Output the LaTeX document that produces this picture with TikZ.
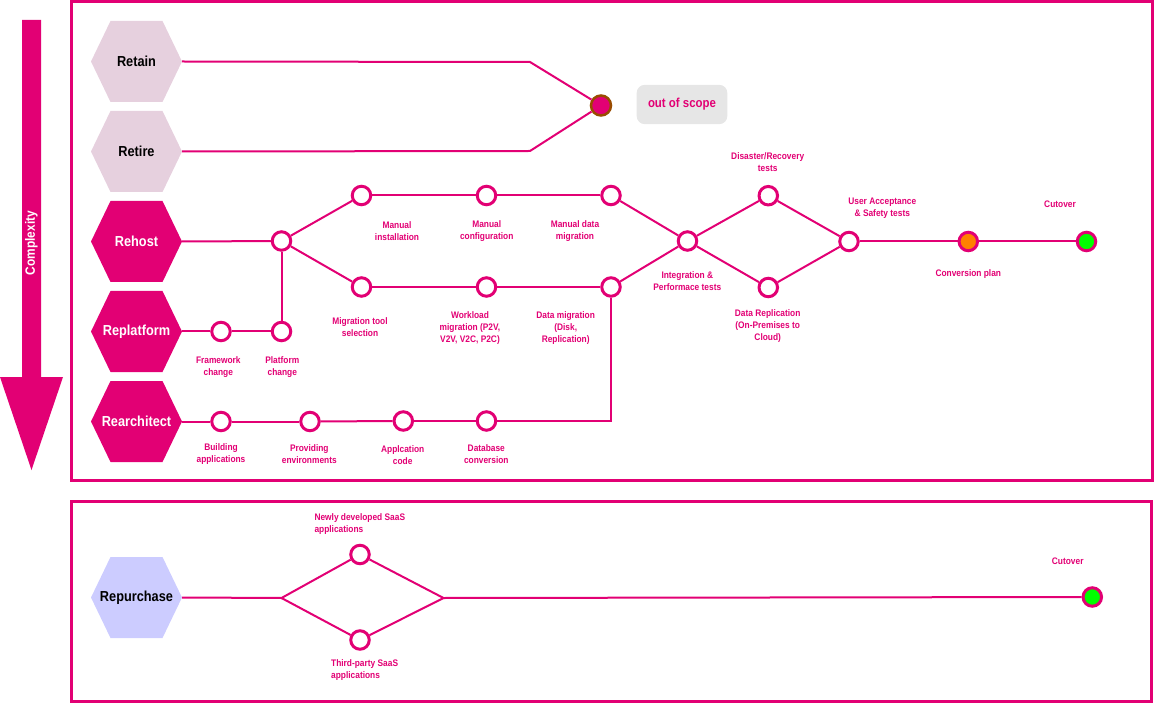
\documentclass[tikz,border=0pt]{standalone}
\usepackage{fontspec}
\setmainfont{Liberation Sans}[FakeStretch=0.88]
\definecolor{mag}{HTML}{E20074}
\definecolor{pinkgray}{HTML}{E6D0DE}
\definecolor{lav}{HTML}{CCCCFF}
\definecolor{brn}{HTML}{994C00}
\definecolor{org}{HTML}{FF8000}
\definecolor{grn}{HTML}{00FF00}
\definecolor{lgray}{HTML}{E6E6E6}
\newcommand\myhex[6]{%
  \fill[#4] ({#2-45.5},#3) -- ({#2-26},{#3-40.5}) -- ({#2+26},{#3-40.5}) -- ({#2+45.5},#3) -- ({#2+26},{#3+40.5}) -- ({#2-26},{#3+40.5}) -- cycle;
  \node[hexlabel,#5] (#1) at (#2,#3) {#6};}
\tikzset{
  hexlabel/.style={minimum width=91pt, minimum height=81pt, inner sep=0pt, font=\fontsize{14.5}{16}\selectfont\bfseries},
  frame/.style={draw=mag, line width=3pt},
  conn/.style={draw=mag, line width=2pt},
  stepc/.style={circle, draw=mag, fill=white, line width=3pt, minimum size=18.5pt, inner sep=0pt},
  lbl/.style={text=mag, font=\fontsize{9.5}{12}\selectfont\bfseries, align=center, inner sep=0pt},
}
\begin{document}
\begin{tikzpicture}[x=1pt,y=-1pt]
\useasboundingbox (0,0) rectangle (1154,703);
% complexity arrow
\fill[mag] (22,20) -- (41,20) -- (41,377) -- (63,377) -- (31.5,470) -- (0,377) -- (22,377) -- cycle;
\node[rotate=90, text=white, font=\fontsize{13.5}{15}\selectfont\bfseries, inner sep=0pt] (cplx) at (31.5,243) {Complexity};
% frames
\draw[frame] (71,1.5) rectangle (1152,480.5);
\draw[frame] (71.5,501.5) rectangle (1151.5,701);
% hexagons
\myhex{retain}{136.5}{61.5}{pinkgray}{text=black}{Retain}
\myhex{retire}{136.5}{151.5}{pinkgray}{text=black}{Retire}
\myhex{rehost}{136.5}{241.5}{mag}{text=white}{Rehost}
\myhex{replat}{136.5}{331.5}{mag}{text=white}{Replatform}
\myhex{rearch}{136.5}{421.5}{mag}{text=white}{Rearchitect}
\myhex{repur}{136.5}{597.5}{lav}{text=black}{Repurchase}
% out of scope
\node[circle, fill=mag, draw=brn, line width=2.5pt, minimum size=20pt, inner sep=0pt] (oos) at (601,105.5) {};
\node[fill=lgray, rounded corners=8pt, minimum width=90.6pt, minimum height=39.3pt, inner sep=0pt, text=mag, font=\fontsize{13}{15}\selectfont\bfseries] (oosb) at (682,104.5) {out of scope};
\coordinate (rtbend) at (530,62);
\coordinate (rebend) at (530,151);
% step circles
\node[stepc] (rhj) at (281.5,241) {};
\node[stepc] (mi) at (361.5,195.5) {};
\node[stepc] (mc) at (486.5,195.5) {};
\node[stepc] (mdm) at (611,195.5) {};
\node[stepc] (mts) at (361.5,287) {};
\node[stepc] (wm) at (486.5,287) {};
\node[stepc] (dmg) at (611,287) {};
\node[stepc] (ipt) at (687.5,241) {};
\node[stepc] (dr) at (768.3,195.7) {};
\node[stepc] (drep) at (768.3,287.5) {};
\node[stepc] (uat) at (849,241.5) {};
\node[stepc, fill=org] (cp) at (968.3,241.5) {};
\node[stepc, fill=grn] (cut) at (1086.5,241.5) {};
\node[stepc] (fc) at (221,331.5) {};
\node[stepc] (pc) at (281.5,331.5) {};
\node[stepc] (ba) at (221,421.5) {};
\node[stepc] (pe) at (310,421.5) {};
\node[stepc] (ac) at (403.3,421) {};
\node[stepc] (dbc) at (486.5,421) {};
\node[stepc] (nd) at (360,554.5) {};
\node[stepc] (tp) at (360,640) {};
\node[stepc, fill=grn] (cut2) at (1092.3,597) {};
\coordinate (rpl) at (281.5,598);
\coordinate (rpr) at (443.5,598);
% connectors
\draw[conn] (retain.east) -- (rtbend) -- (oos);
\draw[conn] (retire.east) -- (rebend) -- (oos);
\draw[conn] (rehost.east) -- (rhj);
\draw[conn] (rhj) -- (mi);
\draw[conn] (rhj) -- (mts);
\draw[conn] (mi) -- (mc);
\draw[conn] (mc) -- (mdm);
\draw[conn] (mdm) -- (ipt);
\draw[conn] (mts) -- (wm);
\draw[conn] (wm) -- (dmg);
\draw[conn] (dmg) -- (ipt);
\draw[conn] (ipt) -- (dr);
\draw[conn] (ipt) -- (drep);
\draw[conn] (dr) -- (uat);
\draw[conn] (drep) -- (uat);
\draw[conn] (uat) -- (cp);
\draw[conn] (cp) -- (cut);
\draw[conn] (replat.east) -- (fc);
\draw[conn] (fc) -- (pc);
\draw[conn] (pc) -- (rhj);
\draw[conn] (rearch.east) -- (ba);
\draw[conn] (ba) -- (pe);
\draw[conn] (pe) -- (ac);
\draw[conn] (ac) -- (dbc);
\draw[conn] (dbc) -| (dmg);
\draw[conn] (repur.east) -- (rpl) -- (nd) -- (rpr) -- (cut2);
\draw[conn] (rpl) -- (tp) -- (rpr);
% labels
\node[lbl] (l1) at (397,231) {Manual\\installation};
\node[lbl] (l2) at (486.7,231) {Manual\\configuration};
\node[lbl] (l3) at (575,231) {Manual data\\migration};
\node[lbl] (l4) at (360,327) {Migration tool\\selection};
\node[lbl] (l5) at (470,328) {Workload\\migration (P2V,\\V2V, V2C, P2C)};
\node[lbl] (l6) at (565.7,328) {Data migration\\(Disk,\\Replication)};
\node[lbl] (l7) at (687.3,281) {Integration \&\\Performace tests};
\node[lbl] (l8) at (767.7,162) {Disaster/Recovery\\tests};
\node[lbl] (l9) at (767.7,325.7) {Data Replication\\(On-Premises to\\Cloud)};
\node[lbl] (l10) at (882.3,208.7) {User Acceptance\\\& Safety tests};
\node[lbl] (l11) at (968.3,273.7) {Conversion plan};
\node[lbl] (l12) at (1060,204.7) {Cutover};
\node[lbl] (l13) at (218.3,366.7) {Framework\\change};
\node[lbl] (l14) at (282.3,366.7) {Platform\\change};
\node[lbl] (l15) at (221,453.7) {Building\\applications};
\node[lbl] (l16) at (309.3,453.7) {Providing\\environments};
\node[lbl] (l17) at (402.7,454.7) {Applcation\\code};
\node[lbl] (l18) at (486.3,453.7) {Database\\conversion};
\node[lbl, align=left, anchor=west] (l19) at (314.3,524.3) {Newly developed SaaS\\applications};
\node[lbl, align=left, anchor=west] (l20) at (331,670.3) {Third-party SaaS\\applications};
\node[lbl] (l21) at (1067.7,561.7) {Cutover};
\end{tikzpicture}
\end{document}
